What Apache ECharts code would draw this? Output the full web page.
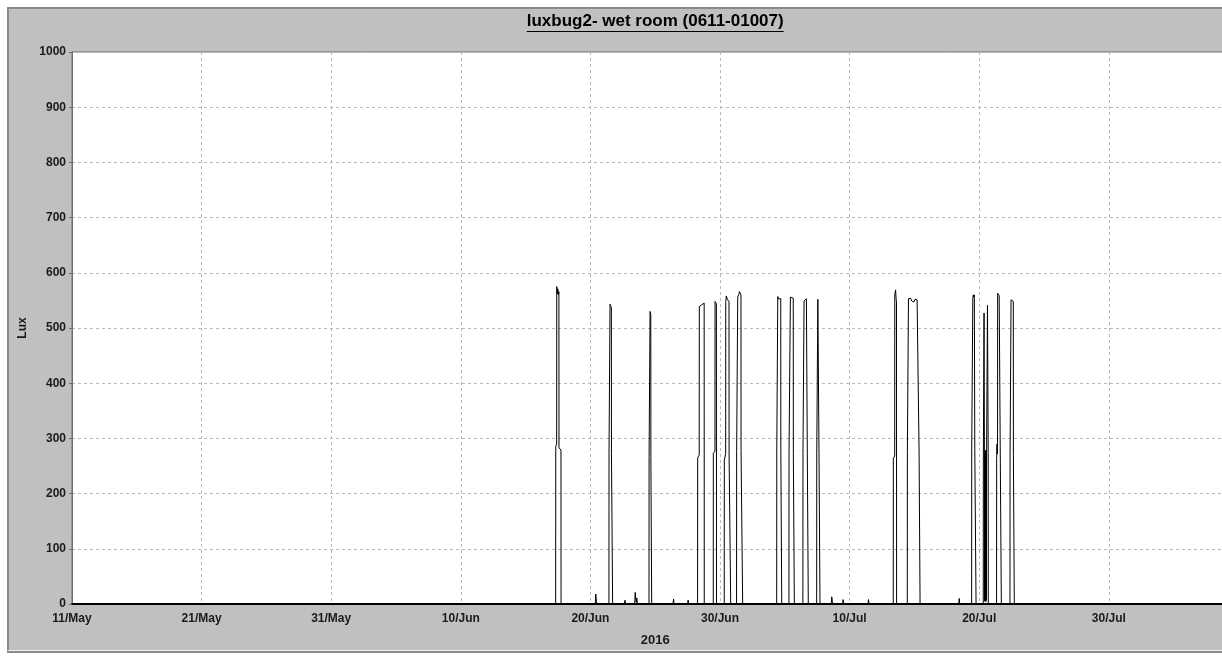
<!DOCTYPE html>
<html>
<head>
<meta charset="utf-8">
<title>luxbug2- wet room (0611-01007)</title>
<script src="https://cdn.jsdelivr.net/npm/echarts@6/dist/echarts.min.js"></script>
<style>
  html, body { margin: 0; padding: 0; background: #ffffff; overflow: hidden; width: 1222px; height: 656px; }
  #panel {
    position: absolute; left: 7px; top: 7px; width: 1300px; height: 641px;
    background: #c0c0c0;
    border-top: 2px solid #8a8a8a; border-left: 2px solid #8a8a8a;
    border-bottom: 1px solid #f4f4f4;
    box-shadow: 0 2px 0 #8a8a8a;
  }
  #chart { position: absolute; left: 0; top: 0; width: 1260px; height: 656px; }
</style>
</head>
<body>
<div id="panel"></div>
<div id="chart"></div>
<script>
// Logger: luxbug2, wet room, serial 0611-01007. Readings in lux, 2016.
const YEAR = 2016;
const AXIS_START = '05-11 00:00';
const AXIS_DAYS = 90;
const dayTickLabels = ['11/May', '21/May', '31/May', '10/Jun', '20/Jun', '30/Jun', '10/Jul', '20/Jul', '30/Jul', '9/Aug'];

// Logged readings as [time "MM-DD HH:mm", lux]; between listed readings the level stays as drawn.
const readingsJune = [
  ['05-11 00:00', 0],
  ['06-17 07:40', 0], ['06-17 07:50', 285], ['06-17 09:30', 290], ['06-17 09:40', 575], ['06-17 10:40', 562],
  ['06-17 11:40', 571], ['06-17 12:40', 560], ['06-17 13:40', 566], ['06-17 13:50', 283], ['06-17 17:30', 279], ['06-17 17:40', 0],
  ['06-20 09:00', 0], ['06-20 10:00', 18], ['06-20 11:00', 5], ['06-20 12:00', 0],
  ['06-21 10:20', 0], ['06-21 10:30', 274], ['06-21 12:10', 276], ['06-21 12:20', 543], ['06-21 13:40', 540],
  ['06-21 14:50', 537], ['06-21 15:00', 272], ['06-21 17:00', 270], ['06-21 17:10', 0],
  ['06-22 15:00', 0], ['06-22 16:00', 7], ['06-22 17:00', 0],
  ['06-23 10:00', 0], ['06-23 11:00', 21], ['06-23 12:00', 8], ['06-23 13:00', 3], ['06-23 14:00', 11], ['06-23 15:00', 0],
  ['06-24 12:30', 0], ['06-24 12:40', 267], ['06-24 14:20', 269], ['06-24 14:30', 530], ['06-24 15:50', 524],
  ['06-24 16:00', 266], ['06-24 17:20', 265], ['06-24 17:30', 0],
  ['06-26 09:00', 0], ['06-26 10:00', 9], ['06-26 11:00', 0],
  ['06-27 12:00', 0], ['06-27 13:00', 7], ['06-27 14:00', 0],
  ['06-28 06:30', 0], ['06-28 06:40', 265], ['06-28 09:30', 270], ['06-28 09:40', 539], ['06-28 11:00', 540],
  ['06-28 12:30', 541], ['06-28 14:00', 542], ['06-28 15:30', 543], ['06-28 17:00', 544], ['06-28 18:40', 545], ['06-28 18:50', 0],
  ['06-29 11:30', 0], ['06-29 11:40', 273], ['06-29 14:40', 277], ['06-29 14:50', 548], ['06-29 16:00', 546],
  ['06-29 17:20', 544], ['06-29 17:30', 0],
  ['06-30 07:50', 0], ['06-30 08:00', 261], ['06-30 10:30', 272], ['06-30 10:40', 546], ['06-30 11:40', 558],
  ['06-30 12:40', 555], ['06-30 13:40', 552], ['06-30 14:40', 550], ['06-30 16:40', 548], ['06-30 16:50', 272],
  ['06-30 19:40', 270], ['06-30 19:50', 0]
];

const readingsJuly = [
  ['07-01 06:40', 0], ['07-01 06:50', 276], ['07-01 08:40', 279], ['07-01 08:50', 556], ['07-01 10:00', 558],
  ['07-01 11:00', 561], ['07-01 12:00', 566], ['07-01 13:30', 563], ['07-01 14:50', 560], ['07-01 15:00', 278],
  ['07-01 17:50', 276], ['07-01 18:00', 0],
  ['07-04 09:00', 0], ['07-04 09:10', 279], ['07-04 10:50', 281], ['07-04 11:00', 557], ['07-04 12:00', 553],
  ['07-04 13:00', 556], ['07-04 14:00', 554], ['07-04 15:00', 555], ['07-04 16:30', 553], ['07-04 16:40', 280],
  ['07-04 18:10', 279], ['07-04 18:20', 0],
  ['07-05 07:40', 0], ['07-05 07:50', 272], ['07-05 10:10', 274], ['07-05 10:20', 556], ['07-05 11:30', 555],
  ['07-05 12:40', 556], ['07-05 14:00', 554], ['07-05 15:40', 554], ['07-05 15:50', 273], ['07-05 17:30', 272], ['07-05 17:40', 0],
  ['07-06 09:30', 0], ['07-06 09:40', 272], ['07-06 11:30', 274], ['07-06 11:40', 549], ['07-06 13:00', 551],
  ['07-06 14:30', 552], ['07-06 16:00', 553], ['07-06 17:30', 554], ['07-06 17:40', 273], ['07-06 19:20', 272], ['07-06 19:30', 0],
  ['07-07 11:00', 0], ['07-07 11:10', 272], ['07-07 13:00', 274], ['07-07 13:10', 552], ['07-07 14:10', 551],
  ['07-07 15:10', 550], ['07-07 15:20', 273], ['07-07 17:00', 272], ['07-07 17:10', 0],
  ['07-08 14:00', 0], ['07-08 15:00', 13], ['07-08 16:00', 5], ['07-08 17:00', 0],
  ['07-09 11:00', 0], ['07-09 12:00', 8], ['07-09 13:00', 0],
  ['07-11 10:00', 0], ['07-11 11:00', 8], ['07-11 12:00', 0],
  ['07-13 08:50', 0], ['07-13 09:00', 264], ['07-13 11:30', 268], ['07-13 11:40', 560], ['07-13 13:10', 569],
  ['07-13 14:10', 552], ['07-13 14:50', 548], ['07-13 15:00', 0],
  ['07-14 10:50', 0], ['07-14 11:00', 274], ['07-14 12:50', 276], ['07-14 13:00', 553], ['07-14 15:00', 552],
  ['07-14 17:00', 554], ['07-14 19:00', 549], ['07-14 21:00', 546], ['07-14 23:00', 547], ['07-15 01:00', 552],
  ['07-15 03:00', 550], ['07-15 05:00', 551], ['07-15 07:00', 552], ['07-15 08:30', 551], ['07-15 08:40', 275],
  ['07-15 10:20', 274], ['07-15 10:30', 0],
  ['07-18 10:00', 0], ['07-18 11:00', 10], ['07-18 12:00', 0],
  ['07-19 10:00', 0], ['07-19 10:10', 279], ['07-19 12:00', 281], ['07-19 12:10', 553], ['07-19 13:00', 560],
  ['07-19 14:00', 556], ['07-19 15:00', 560], ['07-19 15:40', 558], ['07-19 15:50', 280], ['07-19 18:00', 279], ['07-19 18:10', 0],
  ['07-20 07:30', 0], ['07-20 07:40', 261], ['07-20 08:50', 264], ['07-20 09:00', 527], ['07-20 09:40', 268],
  ['07-20 10:00', 6], ['07-20 10:20', 274], ['07-20 10:40', 5], ['07-20 11:00', 277], ['07-20 11:20', 7],
  ['07-20 11:40', 272], ['07-20 12:00', 4], ['07-20 12:20', 279], ['07-20 12:40', 6], ['07-20 13:00', 275],
  ['07-20 13:20', 9], ['07-20 13:40', 270], ['07-20 15:20', 541], ['07-20 16:30', 538], ['07-20 16:40', 275], ['07-20 16:50', 0],
  ['07-21 08:10', 0], ['07-21 08:20', 264], ['07-21 09:00', 290], ['07-21 09:30', 272], ['07-21 10:00', 291],
  ['07-21 10:10', 563], ['07-21 11:30', 561], ['07-21 13:00', 559], ['07-21 14:50', 556], ['07-21 15:00', 275],
  ['07-21 16:50', 274], ['07-21 17:00', 0],
  ['07-22 09:00', 0], ['07-22 09:10', 270], ['07-22 10:50', 272], ['07-22 11:00', 551], ['07-22 12:00', 554],
  ['07-22 13:00', 552], ['07-22 14:00', 550], ['07-22 15:10', 548], ['07-22 15:20', 271], ['07-22 16:50', 270], ['07-22 17:00', 0],
  ['08-09 00:00', 0]
];

// Convert "MM-DD HH:mm" stamps to fractional days after the axis start.
function stampToMs(stamp) {
  const [md, hm] = stamp.split(' ');
  const [mo, dd] = md.split('-').map(Number);
  const [hh, mi] = hm.split(':').map(Number);
  return Date.UTC(YEAR, mo - 1, dd, hh, mi);
}
const t0 = stampToMs(AXIS_START);
const seriesData = readingsJune.concat(readingsJuly)
  .map(([stamp, lux]) => [(stampToMs(stamp) - t0) / 86400000, lux]);

const FONT = '"Liberation Sans", Arial, sans-serif';
const GRID_LEFT = 72, GRID_TOP = 52, GRID_W = 1166.4, GRID_H = 552;
const TITLE = 'luxbug2- wet room (0611-01007)';
const TITLE_SIZE = 17;
const titleX = GRID_LEFT + GRID_W / 2;

// Width of the title text, used for its underline.
const measureCtx = document.createElement('canvas').getContext('2d');
measureCtx.font = 'bold ' + TITLE_SIZE + 'px ' + FONT;
const titleW = measureCtx.measureText(TITLE).width;

const chart = echarts.init(document.getElementById('chart'), null, { renderer: 'canvas' });
chart.setOption({
  animation: false,
  backgroundColor: 'transparent',
  grid: {
    left: GRID_LEFT, top: GRID_TOP, width: GRID_W, height: GRID_H,
    show: true, backgroundColor: '#ffffff', borderColor: '#6e6e6e', borderWidth: 1
  },
  graphic: [
    {
      type: 'text', left: titleX - titleW / 2, top: 13,
      style: { text: TITLE, font: 'bold ' + TITLE_SIZE + 'px ' + FONT, fill: '#000000' }
    },
    {
      type: 'line',
      shape: { x1: titleX - titleW / 2, y1: 31.5, x2: titleX + titleW / 2, y2: 31.5 },
      style: { stroke: '#000000', lineWidth: 1 }
    }
  ],
  xAxis: {
    type: 'value', min: 0, max: AXIS_DAYS, interval: 10,
    name: '2016', nameLocation: 'middle', nameGap: 30,
    nameTextStyle: { fontFamily: FONT, fontWeight: 'bold', fontSize: 13, color: '#1a1a1a' },
    axisLine: { show: true, onZero: false, lineStyle: { color: '#000000', width: 2 } },
    axisTick: { show: false },
    axisLabel: {
      showMaxLabel: false, margin: 9,
      fontFamily: FONT, fontWeight: 'bold', fontSize: 12, color: '#1a1a1a',
      formatter: v => dayTickLabels[Math.round(v / 10)] || ''
    },
    splitLine: { show: true, lineStyle: { type: [3, 3], color: '#b8b8b8', width: 1 } }
  },
  yAxis: {
    type: 'value', min: 0, max: 1000, interval: 100,
    name: 'Lux', nameLocation: 'middle', nameGap: 33,
    nameTextStyle: { fontFamily: FONT, fontWeight: 'bold', fontSize: 12, color: '#1a1a1a' },
    axisLine: { show: true, lineStyle: { color: '#6e6e6e', width: 1 } },
    axisTick: { show: true, length: 3, lineStyle: { color: '#6e6e6e' } },
    axisLabel: {
      margin: 6, fontFamily: FONT, fontWeight: 'bold', fontSize: 12, color: '#1a1a1a',
      formatter: v => String(v)
    },
    splitLine: { show: true, lineStyle: { type: [3, 3], color: '#b8b8b8', width: 1 } }
  },
  series: [{
    name: 'Lux', type: 'line', data: seriesData,
    showSymbol: false, symbol: 'none', smooth: false,
    lineStyle: { color: '#000000', width: 1 },
    clip: true, z: 3
  }]
});
</script>
</body>
</html>
